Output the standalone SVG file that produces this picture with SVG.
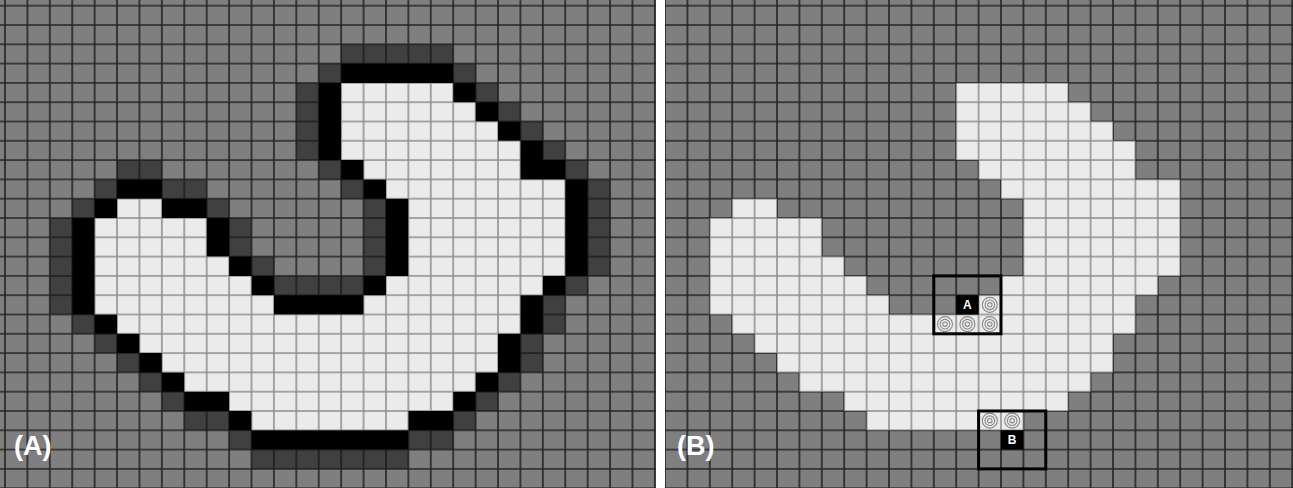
<svg xmlns="http://www.w3.org/2000/svg" xmlns:xlink="http://www.w3.org/1999/xlink" width="1293" height="488" viewBox="0 0 1293 488">
<defs>
<style>
.lbl{font-family:"Liberation Sans",Arial,sans-serif;font-weight:bold;fill:#ffffff}
.box{fill:none;stroke:#000;stroke-width:3}
.tg circle{fill:none;stroke:#8a8a8a;stroke-width:1.1}
</style>
<pattern id="gL" patternUnits="userSpaceOnUse" x="5" y="5.7" width="22.41" height="19.3">
<rect width="22.41" height="19.3" fill="#7f7f7f"/>
<path d="M0 0V19.3M22.41 0V19.3M0 0H22.41M0 19.3H22.41" stroke="#232323" stroke-width="1.6" fill="none"/>
</pattern>
<pattern id="dL" patternUnits="userSpaceOnUse" x="5" y="5.7" width="22.41" height="19.3">
<rect width="22.41" height="19.3" fill="#404040"/>
<path d="M0 0V19.3M22.41 0V19.3M0 0H22.41M0 19.3H22.41" stroke="#1c1c1c" stroke-width="1.6" fill="none"/>
</pattern>
<pattern id="wL" patternUnits="userSpaceOnUse" x="5" y="5.7" width="22.41" height="19.3">
<rect width="22.41" height="19.3" fill="#ebebeb"/>
<path d="M0 0V19.3M22.41 0V19.3M0 0H22.41M0 19.3H22.41" stroke="#8c8c8c" stroke-width="1.5" fill="none"/>
</pattern>
<pattern id="gR" patternUnits="userSpaceOnUse" x="665" y="5.7" width="22.4" height="19.3">
<rect width="22.4" height="19.3" fill="#7f7f7f"/>
<path d="M0 0V19.3M22.4 0V19.3M0 0H22.4M0 19.3H22.4" stroke="#232323" stroke-width="1.6" fill="none"/>
</pattern>
<pattern id="wR" patternUnits="userSpaceOnUse" x="665" y="5.7" width="22.4" height="19.3">
<rect width="22.4" height="19.3" fill="#ebebeb"/>
<path d="M0 0V19.3M22.4 0V19.3M0 0H22.4M0 19.3H22.4" stroke="#8c8c8c" stroke-width="1.5" fill="none"/>
</pattern>
<g id="tgt" class="tg"><circle r="7.5"/><circle r="4.8"/><circle r="2.2"/></g>
</defs>

<rect x="0" y="0" width="1293" height="488" fill="#ffffff"/>

<g id="panelA">
<rect x="0" y="0" width="656" height="488" fill="url(#gL)"/>
<path fill="url(#dL)" d="
M341.15 44.3h112.05v19.3h-112.05z
M318.74 63.6h22.41v19.3h-22.41z M453.2 63.6h22.41v19.3h-22.41z
M296.33 82.9h22.41v19.3h-22.41z M475.61 82.9h22.41v19.3h-22.41z
M296.33 102.2h22.41v19.3h-22.41z M498.02 102.2h22.41v19.3h-22.41z
M296.33 121.5h22.41v19.3h-22.41z M520.43 121.5h22.41v19.3h-22.41z
M296.33 140.8h22.41v19.3h-22.41z M542.84 140.8h22.41v19.3h-22.41z
M117.05 160.1h44.82v19.3h-44.82z M318.74 160.1h22.41v19.3h-22.41z M565.25 160.1h22.41v19.3h-22.41z
M94.64 179.4h22.41v19.3h-22.41z M161.87 179.4h44.82v19.3h-44.82z M341.15 179.4h22.41v19.3h-22.41z M587.66 179.4h22.41v19.3h-22.41z
M72.23 198.7h22.41v19.3h-22.41z M206.69 198.7h22.41v19.3h-22.41z M363.56 198.7h22.41v19.3h-22.41z M587.66 198.7h22.41v19.3h-22.41z
M49.82 218h22.41v19.3h-22.41z M229.1 218h22.41v19.3h-22.41z M363.56 218h22.41v19.3h-22.41z M587.66 218h22.41v19.3h-22.41z
M49.82 237.3h22.41v19.3h-22.41z M229.1 237.3h22.41v19.3h-22.41z M363.56 237.3h22.41v19.3h-22.41z M587.66 237.3h22.41v19.3h-22.41z
M49.82 256.6h22.41v19.3h-22.41z M251.51 256.6h22.41v19.3h-22.41z M363.56 256.6h22.41v19.3h-22.41z M587.66 256.6h22.41v19.3h-22.41z
M49.82 275.9h22.41v19.3h-22.41z M273.92 275.9h89.64v19.3h-89.64z M565.25 275.9h22.41v19.3h-22.41z
M49.82 295.2h22.41v19.3h-22.41z M542.84 295.2h22.41v19.3h-22.41z
M72.23 314.5h22.41v19.3h-22.41z M542.84 314.5h22.41v19.3h-22.41z
M94.64 333.8h22.41v19.3h-22.41z M520.43 333.8h22.41v19.3h-22.41z
M117.05 353.1h22.41v19.3h-22.41z M520.43 353.1h22.41v19.3h-22.41z
M139.46 372.4h22.41v19.3h-22.41z M498.02 372.4h22.41v19.3h-22.41z
M161.87 391.7h22.41v19.3h-22.41z M475.61 391.7h22.41v19.3h-22.41z
M184.28 411h44.82v19.3h-44.82z M453.2 411h22.41v19.3h-22.41z
M229.1 430.3h22.41v19.3h-22.41z M408.38 430.3h44.82v19.3h-44.82z
M251.51 449.6h156.87v19.3h-156.87z"/>
<path fill="#000000" d="
M341.15 63.6h112.05v19.3h-112.05z
M318.74 82.9h22.41v19.3h-22.41z M453.2 82.9h22.41v19.3h-22.41z
M318.74 102.2h22.41v19.3h-22.41z M475.61 102.2h22.41v19.3h-22.41z
M318.74 121.5h22.41v19.3h-22.41z M498.02 121.5h22.41v19.3h-22.41z
M318.74 140.8h22.41v19.3h-22.41z M520.43 140.8h22.41v19.3h-22.41z
M341.15 160.1h22.41v19.3h-22.41z M520.43 160.1h44.82v19.3h-44.82z
M117.05 179.4h44.82v19.3h-44.82z M363.56 179.4h22.41v19.3h-22.41z M565.25 179.4h22.41v19.3h-22.41z
M94.64 198.7h22.41v19.3h-22.41z M161.87 198.7h44.82v19.3h-44.82z M385.97 198.7h22.41v19.3h-22.41z M565.25 198.7h22.41v19.3h-22.41z
M72.23 218h22.41v19.3h-22.41z M206.69 218h22.41v19.3h-22.41z M385.97 218h22.41v19.3h-22.41z M565.25 218h22.41v19.3h-22.41z
M72.23 237.3h22.41v19.3h-22.41z M206.69 237.3h22.41v19.3h-22.41z M385.97 237.3h22.41v19.3h-22.41z M565.25 237.3h22.41v19.3h-22.41z
M72.23 256.6h22.41v19.3h-22.41z M229.1 256.6h22.41v19.3h-22.41z M385.97 256.6h22.41v19.3h-22.41z M565.25 256.6h22.41v19.3h-22.41z
M72.23 275.9h22.41v19.3h-22.41z M251.51 275.9h22.41v19.3h-22.41z M363.56 275.9h22.41v19.3h-22.41z M542.84 275.9h22.41v19.3h-22.41z
M72.23 295.2h22.41v19.3h-22.41z M273.92 295.2h89.64v19.3h-89.64z M520.43 295.2h22.41v19.3h-22.41z
M94.64 314.5h22.41v19.3h-22.41z M520.43 314.5h22.41v19.3h-22.41z
M117.05 333.8h22.41v19.3h-22.41z M498.02 333.8h22.41v19.3h-22.41z
M139.46 353.1h22.41v19.3h-22.41z M498.02 353.1h22.41v19.3h-22.41z
M161.87 372.4h22.41v19.3h-22.41z M475.61 372.4h22.41v19.3h-22.41z
M184.28 391.7h44.82v19.3h-44.82z M453.2 391.7h22.41v19.3h-22.41z
M229.1 411h22.41v19.3h-22.41z M408.38 411h44.82v19.3h-44.82z
M251.51 430.3h156.87v19.3h-156.87z"/>
<path fill="url(#wL)" d="
M341.15 82.9h112.05v19.3h-112.05z
M341.15 102.2h134.46v19.3h-134.46z
M341.15 121.5h156.87v19.3h-156.87z
M341.15 140.8h179.28v19.3h-179.28z
M363.56 160.1h156.87v19.3h-156.87z
M385.97 179.4h179.28v19.3h-179.28z
M117.05 198.7h44.82v19.3h-44.82z M408.38 198.7h156.87v19.3h-156.87z
M94.64 218h112.05v19.3h-112.05z M408.38 218h156.87v19.3h-156.87z
M94.64 237.3h112.05v19.3h-112.05z M408.38 237.3h156.87v19.3h-156.87z
M94.64 256.6h134.46v19.3h-134.46z M408.38 256.6h156.87v19.3h-156.87z
M94.64 275.9h156.87v19.3h-156.87z M385.97 275.9h156.87v19.3h-156.87z
M94.64 295.2h179.28v19.3h-179.28z M363.56 295.2h156.87v19.3h-156.87z
M117.05 314.5h403.38v19.3h-403.38z
M139.46 333.8h358.56v19.3h-358.56z
M161.87 353.1h336.15v19.3h-336.15z
M184.28 372.4h291.33v19.3h-291.33z
M229.1 391.7h224.1v19.3h-224.1z
M251.51 411h156.87v19.3h-156.87z"/>
<text class="lbl" x="14" y="455" font-size="27">(A)</text>
</g>

<g id="panelB">
<rect x="665" y="0" width="628" height="488" fill="url(#gR)"/>
<path fill="url(#wR)" d="
M956.2 82.9h112v19.3h-112z
M956.2 102.2h134.4v19.3h-134.4z
M956.2 121.5h156.8v19.3h-156.8z
M956.2 140.8h179.2v19.3h-179.2z
M978.6 160.1h156.8v19.3h-156.8z
M1001 179.4h179.2v19.3h-179.2z
M732.2 198.7h44.8v19.3h-44.8z M1023.4 198.7h156.8v19.3h-156.8z
M709.8 218h112v19.3h-112z M1023.4 218h156.8v19.3h-156.8z
M709.8 237.3h112v19.3h-112z M1023.4 237.3h156.8v19.3h-156.8z
M709.8 256.6h134.4v19.3h-134.4z M1023.4 256.6h156.8v19.3h-156.8z
M709.8 275.9h156.8v19.3h-156.8z M1001 275.9h156.8v19.3h-156.8z
M709.8 295.2h179.2v19.3h-179.2z M978.6 295.2h156.8v19.3h-156.8z
M732.2 314.5h403.2v19.3h-403.2z
M754.6 333.8h358.4v19.3h-358.4z
M777 353.1h336v19.3h-336z
M799.4 372.4h291.2v19.3h-291.2z
M844.2 391.7h224v19.3h-224z
M866.6 411h156.8v19.3h-156.8z"/>
<rect x="956.2" y="295.2" width="22.4" height="19.3" fill="#000"/>
<rect x="1001" y="430.3" width="22.4" height="19.3" fill="#000"/>
<g id="targets">
<use xlink:href="#tgt" x="989.8" y="304.85"/>
<use xlink:href="#tgt" x="945" y="324.15"/>
<use xlink:href="#tgt" x="967.4" y="324.15"/>
<use xlink:href="#tgt" x="989.8" y="324.15"/>
<use xlink:href="#tgt" x="989.8" y="420.65"/>
<use xlink:href="#tgt" x="1012.2" y="420.65"/>
</g>
<rect id="boxA" class="box" x="933.8" y="275.9" width="67.2" height="57.9"/>
<rect id="boxB" class="box" x="978.6" y="411" width="67.2" height="57.9"/>
<text class="lbl" x="967.4" y="309.2" font-size="12" text-anchor="middle">A</text>
<text class="lbl" x="1012.2" y="444.3" font-size="12" text-anchor="middle">B</text>
<text class="lbl" x="677" y="455" font-size="27">(B)</text>
</g>
</svg>
